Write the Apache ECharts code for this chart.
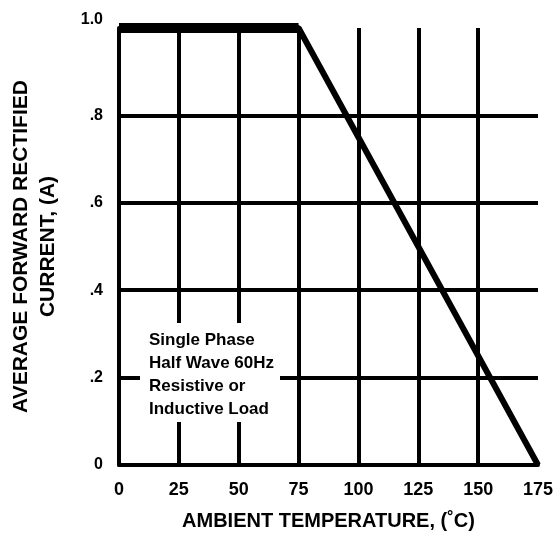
<!DOCTYPE html>
<html>
<head>
<meta charset="utf-8">
<script src="https://cdn.jsdelivr.net/npm/echarts@6/dist/echarts.min.js"></script>
<style>
  html, body { margin: 0; padding: 0; background: #fff; }
  #chart { width: 560px; height: 541px; }
</style>
</head>
<body>
<div id="chart"></div>
<script>
  // derating curve: temperature (°C) vs current (A)
  var tempC = [0, 75, 175]
  var currentA = [1.0, 1.0, 0]
  var yTickLabels = {0: '0', 0.2: '.2', 0.4: '.4', 0.6: '.6', 0.8: '.8', 1: '1.0'}
  var noteLines = ['Single Phase', 'Half Wave 60Hz', 'Resistive or', 'Inductive Load']

  var font = 'Liberation Sans, Arial, sans-serif'
  var chart = echarts.init(document.getElementById('chart'))

  var points = tempC.map(function (t, i) { return [t, currentA[i]] })

  chart.setOption({
    backgroundColor: '#fff',
    animation: false,
    grid: { left: 118, right: 22, top: 28, bottom: 76 },
    xAxis: {
      type: 'value',
      min: 0,
      max: 175,
      interval: 25,
      name: 'AMBIENT TEMPERATURE, (˚C)',
      nameLocation: 'middle',
      nameGap: 46,
      nameTextStyle: { color: '#000', fontFamily: font, fontWeight: 'bold', fontSize: 20 },
      axisLine: { show: true, lineStyle: { color: '#000', width: 4 } },
      axisTick: { show: false },
      axisLabel: { color: '#000', fontFamily: font, fontWeight: 'bold', fontSize: 18, margin: 16 },
      splitLine: { show: true, showMinLine: false, showMaxLine: false, lineStyle: { color: '#000', width: 4 } }
    },
    yAxis: {
      type: 'value',
      min: 0,
      max: 1,
      interval: 0.2,
      name: 'AVERAGE FORWARD RECTIFIED\nCURRENT, (A)',
      nameLocation: 'middle',
      nameRotate: 90,
      nameGap: 57,
      nameTextStyle: { color: '#000', fontFamily: font, fontWeight: 'bold', fontSize: 21, lineHeight: 27 },
      axisLine: { show: true, lineStyle: { color: '#000', width: 4 } },
      axisTick: { show: false },
      axisLabel: {
        color: '#000', fontFamily: font, fontWeight: 'bold', fontSize: 16, margin: 16,
        formatter: function (v) {
          var s = yTickLabels[Math.round(v * 10) / 10]
          return v === 1 ? '{top|' + s + '}' : s
        },
        rich: { top: { fontFamily: font, fontWeight: 'bold', fontSize: 16, padding: [0, 0, 16, 0] } }
      },
      splitLine: { show: true, showMinLine: false, showMaxLine: false, lineStyle: { color: '#000', width: 4 } }
    },
    graphic: [
      {
        type: 'rect',
        z: 100,
        shape: { x: 140, y: 323, width: 140, height: 99 },
        style: { fill: '#fff' }
      },
      {
        type: 'text',
        z: 101,
        left: 149,
        top: 329,
        style: {
          text: noteLines.join('\n'),
          fill: '#000',
          font: 'bold 17px ' + font,
          lineHeight: 23
        }
      }
    ],
    series: [
      {
        // flat rated-current part, drawn heavier as in the original
        type: 'line',
        data: points.slice(0, 2),
        showSymbol: false,
        clip: false,
        lineStyle: { color: '#000', width: 10 }
      },
      {
        type: 'line',
        data: points,
        showSymbol: false,
        clip: false,
        lineStyle: { color: '#000', width: 6 }
      }
    ]
  })
</script>
</body>
</html>
